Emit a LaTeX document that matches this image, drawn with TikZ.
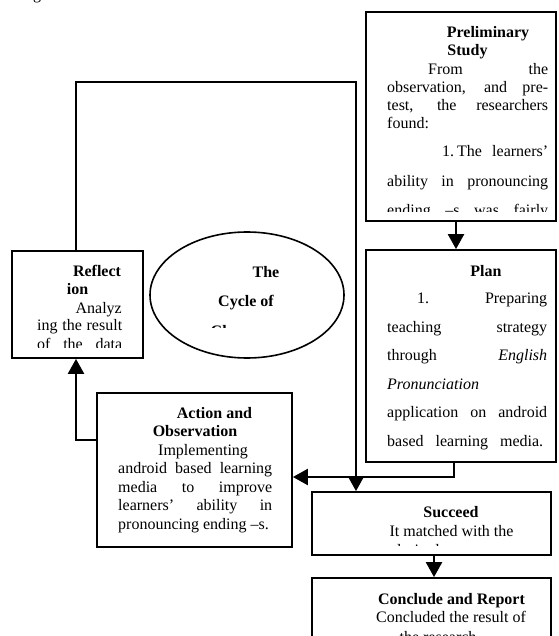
\documentclass[tikz,border=0pt]{standalone}
\usepackage{fontspec}
\setmainfont{Liberation Serif}
\usetikzlibrary{arrows.meta,shapes.geometric}
\newcommand\jl[4]{\node[txt,anchor=base west] (#1) at (#2) {\makebox[#3pt][s]{#4}};}
\tikzset{
  box/.style={draw, line width=1.8pt, rectangle, inner sep=0pt},
  ellbox/.style={draw, line width=1.6pt, ellipse, inner sep=0pt},
  txt/.style={inner sep=0pt, font=\fontsize{16}{18}\selectfont},
  bt/.style={inner sep=0pt, font=\fontsize{16}{18}\selectfont\bfseries},
  conn/.style={line width=2.4pt, -{Triangle[length=15pt,width=16pt]}},
}
\begin{document}
\begin{tikzpicture}[x=1pt,y=-1pt]
\useasboundingbox (0,0) rectangle (558,636);
\fill[white] (0,0) rectangle (558,636);

% stray glyph from the page above
\node[txt,anchor=base west] (g) at (33,0) {g};

% boxes
\node[box, minimum width=190pt, minimum height=209pt] (pre) at (461,116.5) {};
\node[box, minimum width=190pt, minimum height=212pt] (plan) at (461,356) {};
\node[box, minimum width=131pt, minimum height=107pt] (refl) at (77.5,304.5) {};
\node[ellbox, minimum width=194pt, minimum height=126pt] (ell) at (247,295) {};
\node[box, minimum width=195pt, minimum height=154pt] (act) at (194.5,470) {};
\node[box, minimum width=239pt, minimum height=63pt] (succ) at (431.5,523.5) {};
\node[box, minimum width=239pt, minimum height=82pt] (conc) at (431.5,619) {};

% connector guide coordinates
\coordinate (ax) at (456,0);
\coordinate (px) at (454,0);
\coordinate (py) at (0,477);
\coordinate (ay) at (0,440);
\coordinate (rx) at (76,0);
\coordinate (tc) at (356,82);
\coordinate (cx) at (434,0);

% connectors
\draw[conn] (pre.south -| ax) -- (plan.north -| ax);
\draw[conn] (plan.south -| px) |- (act.east |- py);
\draw[conn] (act.west |- ay) -| (refl.south -| rx);
\draw[conn] (refl.north -| rx) |- (tc) -- (succ.north -| tc);
\draw[conn] (succ.south -| cx) -- (conc.north -| cx);

% Preliminary Study text
\begin{scope}
\clip (366,12) rectangle (556,211.5);
\node[bt,anchor=base] (pre1) at (488,38) {Preliminary};
\node[bt,anchor=base] (pre2) at (467.5,56) {Study};
\jl{pre3}{428,75}{120}{From the}
\jl{pre4}{387,93}{161}{observation, and pre-}
\jl{pre5}{387,111}{161}{test, the researchers}
\node[txt,anchor=base west] (pre6) at (387,129) {found:};
\jl{pre7}{442,157}{106}{1.\hspace{3pt}The learners’}
\jl{pre8}{387,186}{161}{ability in pronouncing}
\jl{pre9}{387,215}{161}{ending –s was fairly}
\end{scope}

% Plan text
\node[bt,anchor=base] (pl1) at (486,276) {Plan};
\jl{pl2}{417,303.5}{130}{1. Preparing}
\jl{pl3}{387,332}{160}{teaching strategy}
\jl{pl4}{387,360.5}{160}{through \textit{English}}
\node[txt,anchor=base west] (pl5) at (387,389) {\textit{Pronunciation}};
\jl{pl6}{387,417.5}{160}{application on android}
\jl{pl7}{387,446}{156}{based learning media.}

% Reflection text
\begin{scope}
\clip (12,251) rectangle (143,347);
\node[bt,anchor=base] (r1) at (97,276) {Reflect};
\node[bt,anchor=base] (r2) at (77.5,294) {ion};
\node[txt,anchor=base east] (r3) at (122,313) {Analyz};
\jl{r4}{37,330.5}{85}{ing the result}
\jl{r5}{37,349}{85}{of the data}
\end{scope}

% Ellipse text
\begin{scope}
\clip (150,232) rectangle (345,327);
\node[bt,anchor=base] (e1) at (266,277) {The};
\node[bt,anchor=base] (e2) at (246,306.5) {Cycle of};
\node[bt,anchor=base] (e3) at (247,336.5) {Classroom};
\end{scope}

% Action and Observation text
\node[bt,anchor=base] (a1) at (214.5,418) {Action and};
\node[bt,anchor=base] (a2) at (195,436.5) {Observation};
\node[txt,anchor=base west] (a3) at (158,455) {Implementing};
\jl{a4}{118,473.5}{154}{android based learning}
\jl{a5}{118,492}{154}{media to improve}
\jl{a6}{118,510.5}{154}{learners’ ability in}
\node[txt,anchor=base west] (a7) at (118,529) {pronouncing ending –s.};

% Succeed text
\begin{scope}
\clip (312,492) rectangle (551,545.5);
\node[bt,anchor=base] (s1) at (451,517.5) {Succeed};
\node[txt,anchor=base] (s2) at (451.5,536) {It matched with the};
\node[txt,anchor=base west] (s3) at (393,555) {desired target.};
\end{scope}

% Conclude and Report text
\node[bt,anchor=base] (c1) at (451.5,604.5) {Conclude and Report};
\node[txt,anchor=base] (c2) at (451,622) {Concluded the result of};
\node[txt,anchor=base] (c3) at (440,642.5) {the research.};
\end{tikzpicture}
\end{document}
